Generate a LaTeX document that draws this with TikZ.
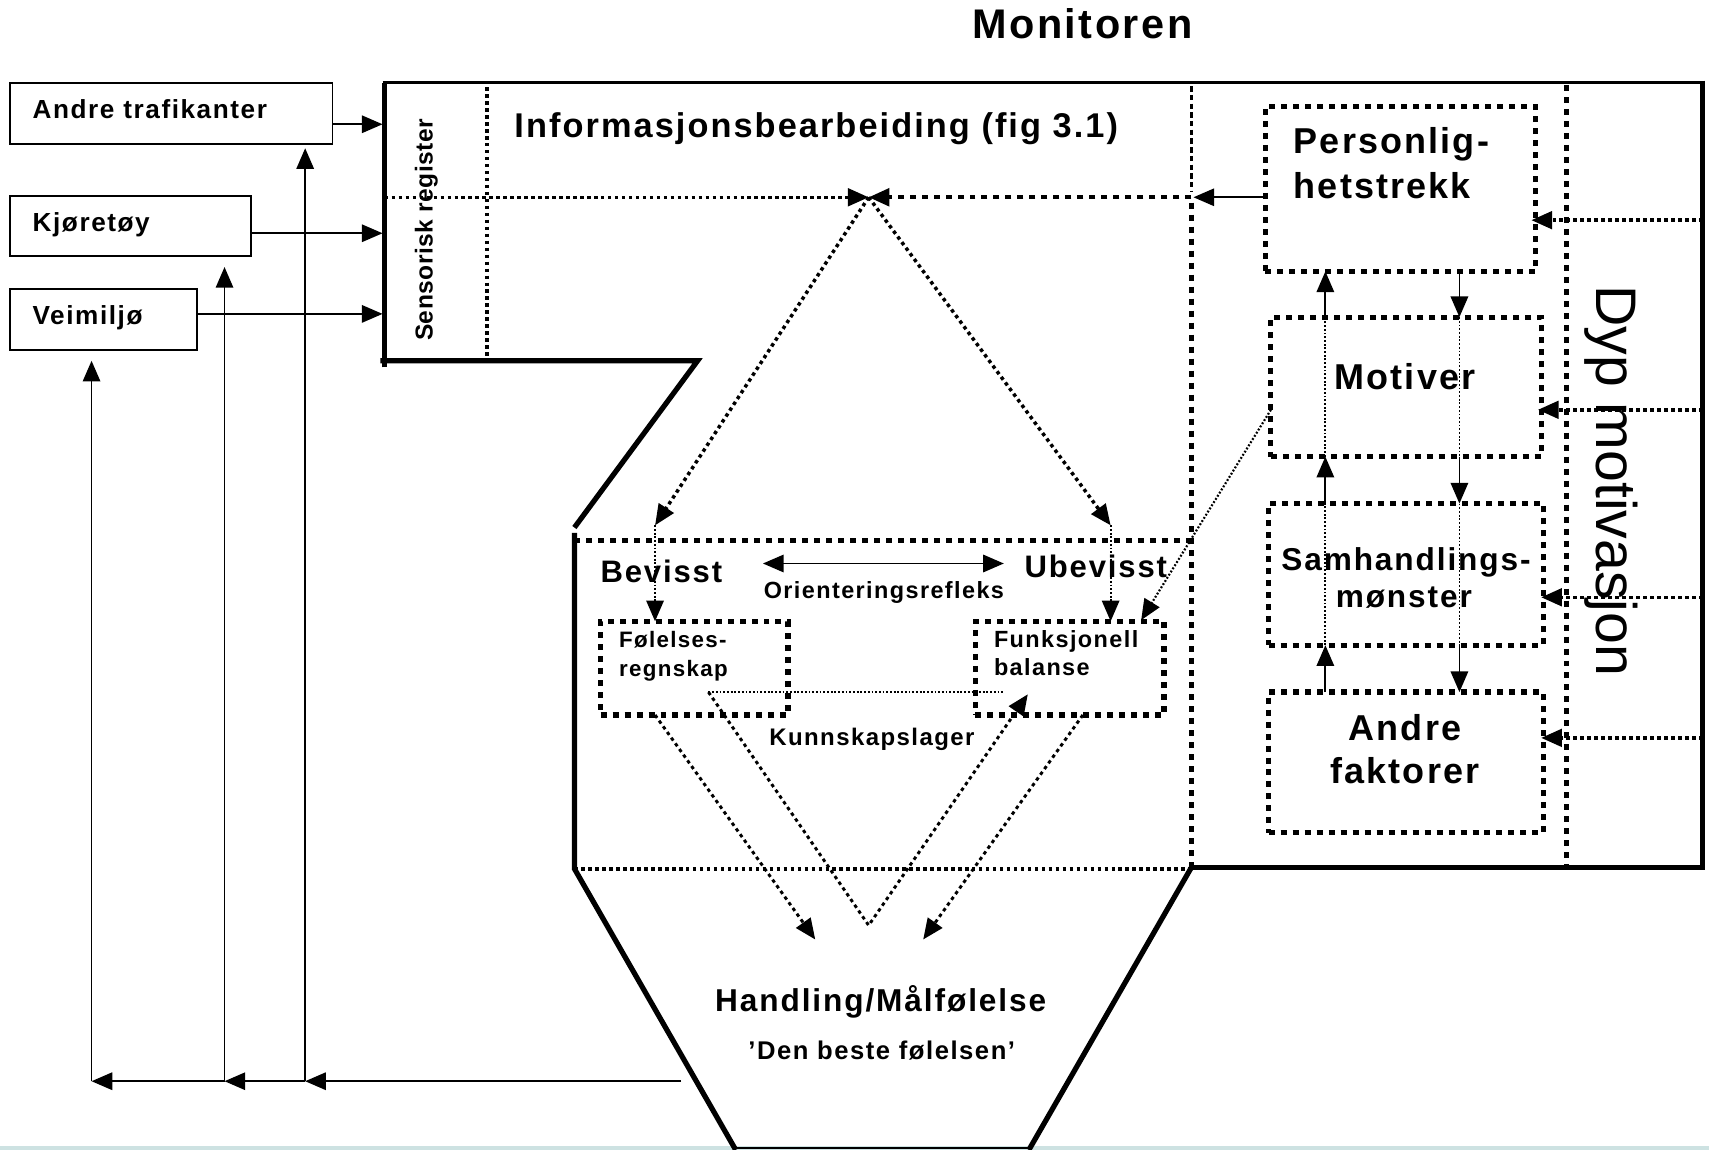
\documentclass[tikz,border=0pt]{standalone}
\usepackage{fontspec}
\setmainfont{Liberation Sans}
\newfontfamily\lsf[LetterSpace=6]{Liberation Sans}
\newfontfamily\tsf[LetterSpace=2]{Liberation Sans}
\newfontfamily\rsf{Liberation Sans}
\usetikzlibrary{arrows.meta}
\newcommand{\fsz}[1]{\fontsize{#1}{#1}\selectfont}
\definecolor{band}{RGB}{205,226,226}
\begin{document}
\begin{tikzpicture}[x=1pt,y=-1pt,
  thinln/.style={line width=1.7pt},
  thickln/.style={line width=4.8pt, line join=miter},
  bigdots/.style={line width=4.8pt, dash pattern=on 5.5pt off 5.5pt},
  meddots/.style={line width=3.2pt, dash pattern=on 3.2pt off 3.2pt},
  smalldots/.style={line width=1.7pt, dash pattern=on 1.7pt off 1.7pt},
  arr/.style={-{Triangle[length=19pt,width=16pt]}},
  txt/.style={inner sep=0pt, outer sep=0pt},
  sbox/.style={draw, thinln, inner sep=0pt, outer sep=0pt, anchor=north west},
  dbox/.style={draw, bigdots, inner sep=0pt, outer sep=0pt, anchor=north west},
  bt/.style={txt, font=\lsf\bfseries\fsz{#1}},
]
\useasboundingbox (0,0) rectangle (1568,1055);
\fill[white] (0,0) rectangle (1568,1055);
\fill[band] (0,1051) rectangle (1568,1055);

% title
\node[bt=38, anchor=base] (title) at (993,35) {Monitoren};

% left boxes
\node[sbox, minimum width=296pt, minimum height=56pt] (andre) at (9,76) {};
\node[sbox, minimum width=221pt, minimum height=55pt] (kjor) at (9,180) {};
\node[sbox, minimum width=172pt, minimum height=56pt] (veim) at (9,265) {};
\node[bt=24, anchor=base west] (tandre) at (30,109) {Andre trafikanter};
\node[bt=24, anchor=base west] (tkjor) at (30,212) {Kjøretøy};
\node[bt=24, anchor=base west] (tveim) at (30,298) {Veimiljø};

% monitor outline
\draw[thickln] (353,337) -- (353,76);
\draw[line width=3pt] (351,76) -- (1564,76);
\draw[thickln] (1562,74) -- (1562,796) -- (1093,796);
\draw[thickln] (349,331) -- (640,331) -- (527,484);
\draw[thickln] (527,489) -- (527,797) -- (675,1055);
\draw[thickln] (1093,796) -- (944,1055);
\draw[line width=2pt] (675,1053) -- (944,1053);

% inner dotted structure
\draw[meddots, line width=3.5pt] (447,80) -- (447,334);
\coordinate (vtx) at (797,181);
\draw[meddots, arr] (353,181) -- (vtx);
\draw[bigdots, line width=3.8pt, arr] (1093,181) -- (vtx);
\draw[line width=2.5pt, dash pattern=on 5pt off 3pt] (1093,79) -- (1093,176);
\draw[bigdots] (1093,186) -- (1093,796);
\draw[bigdots] (1437,78) -- (1437,796);
\draw[bigdots] (527,496) -- (1093,496);
\draw[meddots, line width=3.6pt] (527,797) -- (1093,797);

% texts top area
\node[txt, font=\tsf\bfseries\fsz{22.5}, rotate=90, anchor=base] (tsens) at (397,211) {Sensorisk register};
\node[bt=31.5, anchor=base west] (tinfo) at (472,126) {Informasjonsbearbeiding (fig 3.1)};

% input arrows
\coordinate (inA) at (351,114);
\coordinate (inK) at (351,214);
\coordinate (inV) at (351,288);
\draw[thinln, arr] (andre.east |- inA) -- (inA);
\draw[thinln, arr] (kjor.east |- inK) -- (inK);
\draw[thinln, arr] (veim.east |- inV) -- (inV);

% right column boxes
\node[dbox, minimum width=248pt, minimum height=151pt] (pers) at (1161,98) {};
\node[dbox, minimum width=248pt, minimum height=128pt] (motiv) at (1166,291) {};
\node[dbox, minimum width=252pt, minimum height=130pt] (samh) at (1164,462) {};
\node[dbox, minimum width=252pt, minimum height=129pt] (andref) at (1164,635) {};
\node[bt=33, anchor=base west] (tpers1) at (1187,141) {Personlig-};
\node[bt=33, anchor=base west] (tpers2) at (1187,182) {hetstrekk};
\node[bt=33, anchor=base] (tmot) at (1289,357) {Motiver};
\node[bt=29, anchor=base] (tsam1) at (1290,523) {Samhandlings-};
\node[bt=29, anchor=base] (tsam2) at (1288,557) {mønster};
\node[bt=33, anchor=base] (tand1) at (1289,679) {Andre};
\node[bt=33, anchor=base] (tand2) at (1289,719) {faktorer};
\node[txt, font=\rsf\fsz{52.5}, rotate=-90, anchor=base] (tdyp) at (1465,441) {Dyp motivasjon};

% right column connectors
\coordinate (upx) at (1216,0);
\coordinate (dnx) at (1339,0);
\draw[thinln, arr] (upx |- andref.north) -- (upx |- samh.south);
\draw[smalldots] (upx |- samh.south) -- (upx |- samh.north);
\draw[thinln, arr] (upx |- samh.north) -- (upx |- motiv.south);
\draw[smalldots] (upx |- motiv.south) -- (upx |- motiv.north);
\draw[thinln, arr] (upx |- motiv.north) -- (upx |- pers.south);
\draw[thinln, arr] (dnx |- pers.south) -- (dnx |- motiv.north);
\draw[smalldots] (dnx |- motiv.north) -- (dnx |- motiv.south);
\draw[thinln, arr] (dnx |- motiv.south) -- (dnx |- samh.north);
\draw[smalldots] (dnx |- samh.north) -- (dnx |- samh.south);
\draw[thinln, arr] (dnx |- samh.south) -- (dnx |- andref.north);
\coordinate (pl) at (1095,181);
\draw[thinln, arr] (pers.west |- pl) -- (pl);
\coordinate (rb1) at (1562,202);
\coordinate (rb2) at (1562,376);
\coordinate (rb3) at (1562,548);
\coordinate (rb4) at (1562,677);
\draw[meddots, arr, shorten >=-4pt] (rb1) -- (pers.east |- rb1);
\draw[meddots, arr, shorten >=-3pt] (rb2) -- (motiv.east |- rb2);
\draw[meddots, arr, shorten >=-2pt] (rb3) -- (samh.east |- rb3);
\draw[meddots, arr, shorten >=-2pt] (rb4) -- (andref.east |- rb4);

% middle section
\node[dbox, minimum width=172pt, minimum height=86pt] (fol) at (551,570) {};
\node[dbox, minimum width=173pt, minimum height=86pt] (funk) at (895,570) {};
\node[bt=28.5, anchor=base west] (tbev) at (551,534) {Bevisst};
\node[bt=28.5, anchor=base west] (tubev) at (940,530) {Ubevisst};
\node[bt=21.5, anchor=base] (tori) at (811,549) {Orienteringsrefleks};
\node[bt=20.5, anchor=base west] (tfol1) at (568,594) {Følelses-};
\node[bt=20.5, anchor=base west] (tfol2) at (568,621) {regnskap};
\node[bt=21.5, anchor=base west] (tfun1) at (912,594) {Funksjonell};
\node[bt=21.5, anchor=base west] (tfun2) at (912,620) {balanse};
\node[bt=22, anchor=base] (tkun) at (800,684) {Kunnskapslager};
\node[bt=29, anchor=base] (thand) at (808,928) {Handling/Målfølelse};
\node[bt=23.5, anchor=base] (tden) at (809,972) {’Den beste følelsen’};

\coordinate (oa) at (700,517);
\coordinate (ob) at (921,517);
\draw[thinln, {Triangle[length=19pt,width=16pt]}-{Triangle[length=19pt,width=16pt]}] (oa) -- (ob);

\coordinate (bl) at (601,482);
\coordinate (br) at (1019,482);
\draw[meddots, arr] (vtx) -- (bl);
\draw[meddots, arr] (vtx) -- (br);
\draw[smalldots, arr] (bl) -- (bl |- fol.north);
\draw[smalldots, arr] (br) -- (br |- funk.north);
\coordinate (mf) at (1047,569);
\draw[smalldots, line width=2pt, arr] ([yshift=-21pt]motiv.west) -- (mf);

\coordinate (ks) at (650,635);
\coordinate (ke) at (920,635);
\coordinate (vb) at (797,849);
\coordinate (fa) at (943,637);
\draw[smalldots, line width=2.2pt] (ks) -- (ke);
\draw[meddots, line width=2.7pt, arr] (ks) -- (vb) -- (fa);
\coordinate (ha) at (748,862);
\coordinate (hb) at (847,862);
\draw[meddots, line width=2.7pt, arr] ([xshift=-36pt]fol.south) -- (ha);
\draw[meddots, line width=2.7pt, arr] ([xshift=12pt]funk.south) -- (hb);

% feedback lines
\coordinate (fbs) at (625,992);
\coordinate (fb1) at (280,992);
\coordinate (fb2) at (206,992);
\coordinate (fb3) at (84,992);
\draw[thinln, arr] (fbs) -- (fb1);
\draw[thinln, arr] (fb1) -- (fb2);
\draw[thinln, arr] (fb2) -- (fb3);
\draw[thinln, arr, shorten >=4pt] (fb1) -- (fb1 |- andre.south);
\draw[thinln, arr, shorten >=10pt] (fb2) -- (fb2 |- kjor.south);
\draw[thinln, arr, shorten >=10pt] (fb3) -- (fb3 |- veim.south);
\end{tikzpicture}
\end{document}
